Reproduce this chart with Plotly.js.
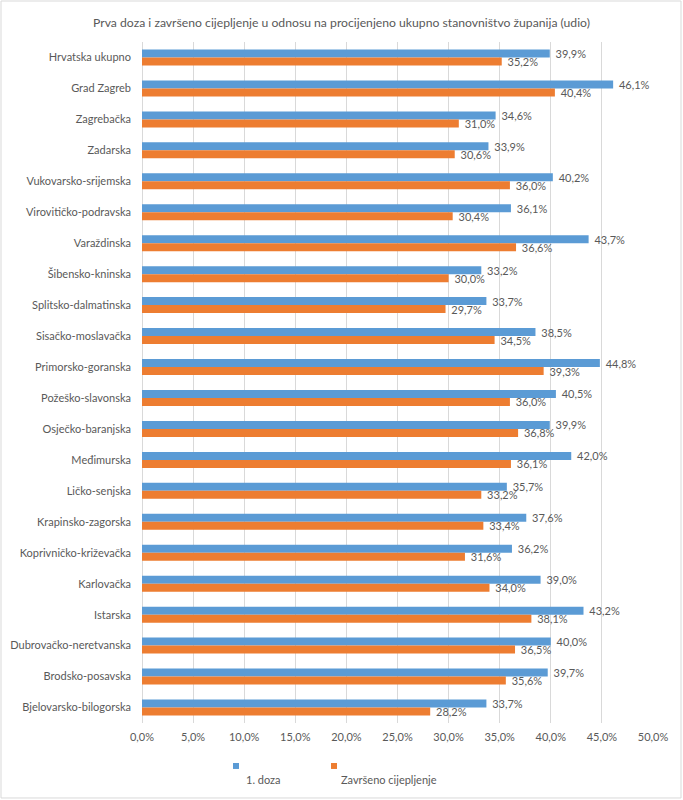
<!DOCTYPE html>
<html>
<head>
<meta charset="utf-8">
<script src="https://cdn.plot.ly/plotly-3.0.1.min.js"></script>
<style>html,body{margin:0;padding:0;background:#fff;}#chart{width:683px;height:800px;}</style>
</head>
<body>
<div id="chart"></div>
<script>
const categories = [
  "Hrvatska ukupno","Grad Zagreb","Zagrebačka","Zadarska","Vukovarsko-srijemska",
  "Virovitičko-podravska","Varaždinska","Šibensko-kninska","Splitsko-dalmatinska",
  "Sisačko-moslavačka","Primorsko-goranska","Požeško-slavonska","Osječko-baranjska",
  "Međimurska","Ličko-senjska","Krapinsko-zagorska","Koprivničko-križevačka",
  "Karlovačka","Istarska","Dubrovačko-neretvanska","Brodsko-posavska","Bjelovarsko-bilogorska"
];
const prvaDoza = [39.9,46.1,34.6,33.9,40.2,36.1,43.7,33.2,33.7,38.5,44.8,40.5,39.9,42.0,35.7,37.6,36.2,39.0,43.2,40.0,39.7,33.7];
const zavrseno = [35.2,40.4,31.0,30.6,36.0,30.4,36.6,30.0,29.7,34.5,39.3,36.0,36.8,36.1,33.2,33.4,31.6,34.0,38.1,36.5,35.6,28.2];
const seriesNames = ["1. doza","Završeno cijepljenje"];
const xTicks = [0,5,10,15,20,25,30,35,40,45,50];
const xTickText = xTicks.map(v => v.toFixed(1).replace(".", ",") + "%");

const FONT = "Lato, 'Open Sans', sans-serif";
const GREY = "#595959";
const BLUE = "#5B9BD5";
const ORANGE = "#ED7D31";

function barTrace(name, values, color) {
  return {type:"bar", orientation:"h", name:name, y:categories, x:values,
    marker:{color:color}, texttemplate:"\u00a0%{x:.1f}%", textposition:"outside",
    constraintext:"none", textfont:{family:FONT,size:11,color:GREY},
    cliponaxis:false, hoverinfo:"x+y"};
}
const traces = [barTrace(seriesNames[0], prvaDoza, BLUE), barTrace(seriesNames[1], zavrseno, ORANGE)];

const layout = {
  width:683, height:800,
  margin:{l:142, r:30, t:42, b:77},
  separators:",.",
  paper_bgcolor:"#fff", plot_bgcolor:"#fff",
  font:{family:FONT, color:GREY, size:11},
  title:{text:"Prva doza i završeno cijepljenje u odnosu na procijenjeno ukupno stanovništvo županija (udio)",
         font:{family:FONT,size:12.2,color:GREY}, x:0.5, xanchor:"center", y:0.9716, yanchor:"middle"},
  barmode:"group", bargap:0.483, bargroupgap:0,
  showlegend:false,
  xaxis:{range:[0,50], tickmode:"array", tickvals:xTicks, ticktext:xTickText,
         showgrid:true, gridcolor:"#D9D9D9", gridwidth:1, zeroline:true, zerolinecolor:"#D9D9D9",
         showline:false, ticks:"", ticklabelstandoff:6, tickfont:{family:FONT,size:11,color:GREY}, fixedrange:true},
  yaxis:{autorange:"reversed", type:"category", showgrid:false, zeroline:false, showline:false,
         ticks:"", ticklabelstandoff:10, tickfont:{family:FONT,size:11,color:GREY}, automargin:false, fixedrange:true},
  shapes:[
    {type:"rect", xref:"paper", yref:"paper", x0:-0.2759, x1:1.0548, y0:-0.1101, y1:1.0602,
     line:{color:"#D9D9D9", width:1}, fillcolor:"rgba(0,0,0,0)"},
    {type:"rect", xref:"paper", yref:"paper", x0:0.1781, x1:0.1898, y0:-0.0587, y1:-0.0675,
     line:{width:0}, fillcolor:BLUE},
    {type:"rect", xref:"paper", yref:"paper", x0:0.3699, x1:0.3816, y0:-0.0587, y1:-0.0675,
     line:{width:0}, fillcolor:ORANGE}
  ],
  annotations:[
    {xref:"paper", yref:"paper", x:0.1996, y:-0.0837, text:seriesNames[0], showarrow:false,
     xanchor:"left", yanchor:"middle", font:{family:FONT,size:11,color:GREY}},
    {xref:"paper", yref:"paper", x:0.3855, y:-0.0837, text:seriesNames[1], showarrow:false,
     xanchor:"left", yanchor:"middle", font:{family:FONT,size:11,color:GREY}}
  ]
};

Plotly.newPlot("chart", traces, layout, {displayModeBar:false, staticPlot:true});
</script>
</body>
</html>
